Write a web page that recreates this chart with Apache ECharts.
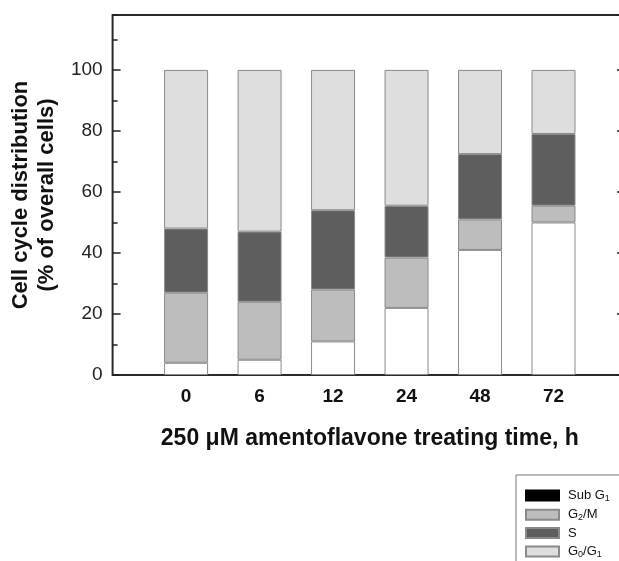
<!DOCTYPE html>
<html>
<head>
<meta charset="utf-8">
<script src="https://cdn.jsdelivr.net/npm/echarts@6/dist/echarts.min.js"></script>
<style>
  html, body { margin: 0; padding: 0; background: #fff; width: 619px; height: 561px; overflow: hidden; }
  /* the figure is cropped on the right and bottom, so the canvas is a bit larger than the window */
  #chart { width: 640px; height: 600px; }
</style>
</head>
<body>
<div id="chart"></div>
<script>
// treating time (h)
const times = ['0', '6', '12', '24', '48', '72']
// segment heights in % of overall cells, bottom to top
const subG1 = [4, 5, 11, 22, 41, 50]
const g2m = [23, 19, 17, 16.5, 10, 5.5]
const sPhase = [21, 23, 26, 17, 21.4, 23.5]
const g0g1 = [52, 53, 46, 44.5, 27.6, 21]
const yTicks = [0, 20, 40, 60, 80, 100]

const font = 'Liberation Sans, Arial, sans-serif'
// empty slot on each side so the bars sit one step in from the axes
const pad = a => [null, ...a, null]

const legendText = {
  'Sub G1': '{n|Sub G}{s|1}',
  'G2/M': '{n|G}{s|2}{n|/M}',
  'S': '{n|S}',
  'G0/G1': '{n|G}{s|0}{n|/G}{s|1}'
}

function barSeries(name, data, color) {
  return {
    name: name,
    type: 'bar',
    stack: 'total',
    barWidth: 44,
    data: pad(data),
    itemStyle: { color: color, borderColor: '#8a8a8a', borderWidth: 1 },
    emphasis: { disabled: true }
  }
}

const myChart = echarts.init(document.getElementById('chart'))
myChart.setOption({
  animation: false,
  textStyle: { fontFamily: font },
  grid: {
    left: 111, top: 15, width: 516, height: 360,
    show: true, borderColor: '#2a2a2a', borderWidth: 2
  },
  legend: {
    orient: 'vertical',
    left: 516, top: 475, height: 150,
    padding: [13, 80, 20, 9],
    borderColor: '#777', borderWidth: 1,
    icon: 'rect',
    itemWidth: 33, itemHeight: 10, itemGap: 4.3,
    data: [
      { name: 'Sub G1', itemStyle: { color: '#000', borderColor: '#000' } },
      { name: 'G2/M' },
      { name: 'S' },
      { name: 'G0/G1' }
    ],
    formatter: name => legendText[name],
    textStyle: {
      padding: [0, 0, 0, 4],
      rich: {
        n: { fontSize: 13, color: '#111', fontFamily: font, lineHeight: 14 },
        s: { fontSize: 9, color: '#111', fontFamily: font, lineHeight: 14, padding: [6, 0, 0, 0] }
      }
    }
  },
  xAxis: {
    type: 'category',
    boundaryGap: false,
    data: pad(times).map(t => t === null ? '' : t),
    axisLine: { show: false },
    axisTick: { show: false },
    axisLabel: { margin: 12, fontSize: 19, fontWeight: 'bold', color: '#111', interval: 0 },
    name: '250 \u03bcM amentoflavone treating time, h',
    nameLocation: 'middle',
    nameGap: 52,
    nameTextStyle: { fontSize: 23, fontWeight: 'bold', color: '#111' },
    splitLine: { show: false }
  },
  yAxis: [
    {
      type: 'value', min: 0, max: 118, interval: 20,
      axisLine: { show: false },
      axisTick: { show: true, inside: true, length: 8, lineStyle: { color: '#222', width: 1.5 } },
      axisLabel: {
        margin: 10, fontSize: 19, color: '#222', showMaxLabel: false,
        formatter: v => yTicks.includes(v) ? String(v) : ''
      },
      splitLine: { show: false },
      name: 'Cell cycle distribution\n(% of overall cells)',
      nameLocation: 'middle',
      nameRotate: 90,
      nameGap: 48,
      nameTextStyle: { fontSize: 22, fontWeight: 'bold', color: '#111', lineHeight: 26 }
    },
    {
      type: 'value', min: 0, max: 118, interval: 10, position: 'left',
      axisLine: { show: false },
      axisTick: { show: true, inside: true, length: 5, lineStyle: { color: '#222', width: 1.5 } },
      axisLabel: { show: false },
      splitLine: { show: false }
    },
    {
      type: 'value', min: 0, max: 118, interval: 20, position: 'right',
      axisLine: { show: false },
      axisTick: { show: true, inside: true, length: 10, lineStyle: { color: '#222', width: 1.5 } },
      axisLabel: { show: false },
      splitLine: { show: false }
    }
  ],
  series: [
    barSeries('Sub G1', subG1, '#ffffff'),
    barSeries('G2/M', g2m, '#bdbdbd'),
    barSeries('S', sPhase, '#5e5e5e'),
    barSeries('G0/G1', g0g1, '#dedede')
  ]
})
</script>
</body>
</html>
